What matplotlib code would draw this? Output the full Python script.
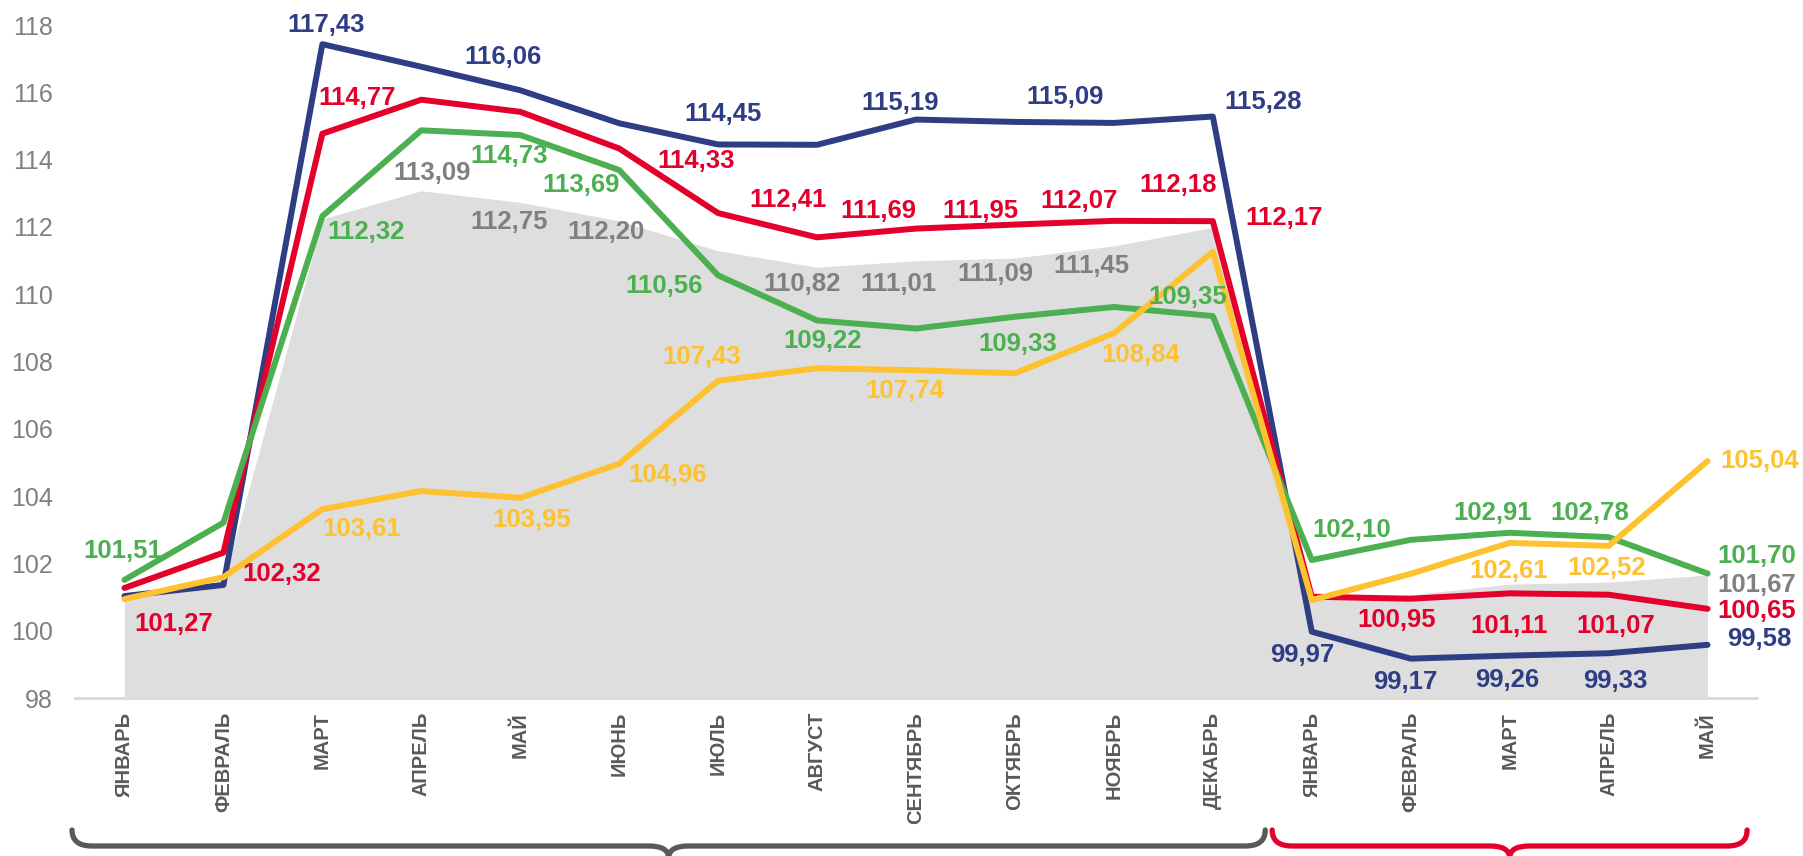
import matplotlib
matplotlib.use('Agg')
import matplotlib.pyplot as plt
from matplotlib.path import Path
from matplotlib.patches import PathPatch
from matplotlib.transforms import blended_transform_factory

# month labels (two years: full year + Jan-May of next one)
months = ['ЯНВАРЬ', 'ФЕВРАЛЬ', 'МАРТ', 'АПРЕЛЬ', 'МАЙ', 'ИЮНЬ', 'ИЮЛЬ', 'АВГУСТ',
          'СЕНТЯБРЬ', 'ОКТЯБРЬ', 'НОЯБРЬ', 'ДЕКАБРЬ',
          'ЯНВАРЬ', 'ФЕВРАЛЬ', 'МАРТ', 'АПРЕЛЬ', 'МАЙ']

gray_vals = [101.00, 101.50, 112.25, 113.09, 112.75, 112.20, 111.31, 110.82, 111.01,
             111.09, 111.45, 112.00, 100.98, 101.08, 101.40, 101.46, 101.67]
blue_vals = [101.03, 101.36, 117.43, 116.76, 116.06, 115.08, 114.45, 114.44, 115.19,
             115.12, 115.09, 115.28, 99.97, 99.17, 99.26, 99.33, 99.58]
red_vals = [101.27, 102.32, 114.77, 115.78, 115.42, 114.33, 112.41, 111.69, 111.95,
            112.07, 112.18, 112.17, 101.01, 100.95, 101.11, 101.07, 100.65]
green_vals = [101.51, 103.21, 112.32, 114.87, 114.73, 113.69, 110.56, 109.22, 108.98,
              109.33, 109.62, 109.35, 102.10, 102.70, 102.91, 102.78, 101.70]
yellow_vals = [100.94, 101.59, 103.61, 104.15, 103.95, 104.96, 107.43, 107.80, 107.74,
               107.65, 108.84, 111.26, 100.91, 101.69, 102.61, 102.52, 105.04]

yticks = list(range(98, 119, 2))

# colours
C_AREA = '#dedede'
C_GRAYTXT = '#808080'
C_BLUE = '#2f3e84'
C_RED = '#e3002b'
C_GREEN = '#4caf50'
C_YELLOW = '#fec230'
C_TICK = '#595959'

# label placement: index -> (dx, dy) offset in pixels from the point
gray_lbl = {3: (11, 17), 4: (-11, -20), 5: (-13, -12), 7: (-15, -17), 8: (-18, -24),
            9: (-20, -16), 10: (-22, -21), 16: (49, -10)}
blue_lbl = {2: (4, 19), 4: (-17, 33), 6: (5, 30), 8: (-16, 17), 10: (-49, 26),
            11: (50, 15), 12: (-10, -23), 13: (-5, -23), 14: (-2, -24), 15: (7, -28),
            16: (52, 6)}
red_lbl = {0: (49, -36), 1: (58, -21), 2: (35, 36), 5: (77, -13), 6: (70, 13),
           7: (61, 26), 8: (64, 18), 9: (64, 24), 10: (64, 36), 11: (71, 3),
           13: (-14, -21), 14: (-1, -33), 15: (7, -31), 16: (49, -2)}
green_lbl = {0: (-2, 29), 2: (44, -16), 4: (-11, -21), 5: (-38, -15), 6: (-54, -11),
             7: (6, -21), 9: (3, -27), 11: (-25, 19), 12: (40, 30), 14: (-17, 20),
             15: (-19, 24), 16: (49, 17)}
yellow_lbl = {2: (39, -20), 4: (12, -22), 5: (48, -11), 6: (-16, 24), 8: (-11, -21),
              10: (27, -22), 14: (-1, -28), 15: (-2, -22), 16: (52, 0)}

plt.rcParams['font.family'] = ['Liberation Sans', 'DejaVu Sans']

W, H = 1803, 856
fig = plt.figure(figsize=(W / 100, H / 100), dpi=100)
ax = fig.add_axes([75 / W, (H - 698) / H, (1757 - 75) / W, (698 - 25) / H])

x = list(range(len(months)))

ax.fill_between(x, 98, gray_vals, color=C_AREA, lw=0, zorder=1)
ax.plot(x, gray_vals, color='white', lw=1.5, zorder=1.5)

lw = 4.3
for vals, col, z in [(blue_vals, C_BLUE, 2), (red_vals, C_RED, 3),
                     (green_vals, C_GREEN, 4), (yellow_vals, C_YELLOW, 5)]:
    ax.plot(x, vals, color=col, lw=lw, zorder=z,
            solid_joinstyle='round', solid_capstyle='round')


def fmt(v):
    return f'{v:.2f}'.replace('.', ',')


for vals, lbls, col in [(gray_vals, gray_lbl, C_GRAYTXT),
                        (blue_vals, blue_lbl, C_BLUE),
                        (red_vals, red_lbl, C_RED),
                        (green_vals, green_lbl, C_GREEN),
                        (yellow_vals, yellow_lbl, C_YELLOW)]:
    for i, (dx, dy) in lbls.items():
        ax.annotate(fmt(vals[i]), (i, vals[i]), xytext=(dx, dy),
                    textcoords='offset pixels', ha='center', va='center',
                    fontsize=18.5, fontweight='bold', color=col, zorder=10,
                    annotation_clip=False)

ax.set_xlim(-0.5, 16.5)
ax.set_ylim(98, 118)
ax.set_yticks(yticks)
ax.set_yticklabels([str(t) for t in yticks], fontsize=18, color=C_GRAYTXT)
ax.set_xticks(x)
ax.set_xticklabels(months, rotation=90, fontsize=14.5, fontweight='bold',
                   color=C_TICK, va='top', ha='center')
ax.tick_params(axis='y', length=0, pad=16)
ax.tick_params(axis='x', length=0, pad=10)
for s in ['top', 'right', 'left']:
    ax.spines[s].set_visible(False)
ax.spines['bottom'].set_color('#d9d9d9')
ax.spines['bottom'].set_linewidth(2)
ax.spines['bottom'].set_zorder(0.5)

# curly braces under the month groups
trans = blended_transform_factory(ax.transData, fig.transFigure)


def brace(x0, x1, color):
    yt = (H - 830) / H
    yl = (H - 846) / H
    ytip = (H - 858) / H
    r = 0.2
    xc = (x0 + x1) / 2
    verts = [(x0, yt), (x0, yl), (x0 + r, yl), (xc - r, yl), (xc, yl), (xc, ytip),
             (xc, yl), (xc + r, yl), (x1 - r, yl), (x1, yl), (x1, yt)]
    codes = [Path.MOVETO, Path.CURVE3, Path.CURVE3, Path.LINETO, Path.CURVE3, Path.CURVE3,
             Path.CURVE3, Path.CURVE3, Path.LINETO, Path.CURVE3, Path.CURVE3]
    p = PathPatch(Path(verts, codes), transform=trans, fill=False, edgecolor=color,
                  lw=3.8, clip_on=False, capstyle='round', joinstyle='round')
    fig.add_artist(p)


brace(-0.53, 11.53, C_TICK)
brace(11.6, 16.4, C_RED)

fig.savefig('out.png', dpi=100)
